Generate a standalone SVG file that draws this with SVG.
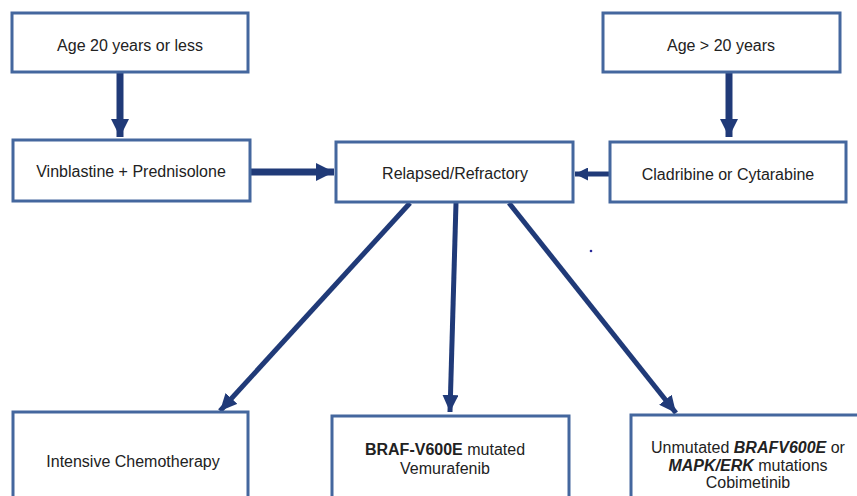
<svg xmlns="http://www.w3.org/2000/svg" width="857" height="496" viewBox="0 0 857 496">
<defs>
<style>
.box{fill:#ffffff;stroke:#44679e;stroke-width:3}
.t{font-family:"Liberation Sans",Arial,sans-serif;font-size:16px;fill:#222222;text-anchor:middle}
.b{font-weight:bold}
.bi{font-weight:bold;font-style:italic}
.c{stroke:#203a78;fill:none}
.w7{stroke-width:7}
.w5{stroke-width:5}
</style>
<marker id="hBig" markerUnits="userSpaceOnUse" markerWidth="18" markerHeight="18" refX="18" refY="9" orient="auto">
<path d="M0,0 L18,9 L0,18 z" fill="#203a78"/>
</marker>
<marker id="hMed" markerUnits="userSpaceOnUse" markerWidth="17" markerHeight="16" refX="17" refY="8" orient="auto">
<path d="M0,0 L17,8 L0,16 z" fill="#203a78"/>
</marker>
<marker id="hSm" markerUnits="userSpaceOnUse" markerWidth="13" markerHeight="13" refX="13" refY="6.5" orient="auto">
<path d="M0,0 L13,6.5 L0,13 z" fill="#203a78"/>
</marker>
</defs>
<rect width="857" height="496" fill="#ffffff"/>

<g id="connectors">
<line class="c w7" x1="120" y1="73" x2="120" y2="137" marker-end="url(#hBig)"/>
<line class="c w7" x1="729" y1="73" x2="729" y2="137" marker-end="url(#hBig)"/>
<line class="c w7" x1="251" y1="172" x2="334" y2="172" marker-end="url(#hBig)"/>
<line class="c w5" x1="609" y1="174" x2="575" y2="174" marker-end="url(#hSm)"/>
<line class="c w5" x1="410" y1="203" x2="220" y2="411" marker-end="url(#hMed)"/>
<line class="c w5" x1="456" y1="203" x2="450" y2="412" marker-end="url(#hMed)"/>
<line class="c w5" x1="509" y1="203" x2="676" y2="413" marker-end="url(#hMed)"/>
</g>

<g id="node-age-young">
<rect class="box" x="12" y="13" width="236" height="59"/>
<text class="t" x="130" y="51">Age 20 years or less</text>
</g>
<g id="node-age-old">
<rect class="box" x="603" y="13" width="237" height="59"/>
<text class="t" x="721" y="51">Age &gt; 20 years</text>
</g>
<g id="node-vinblastine">
<rect class="box" x="13" y="140" width="237" height="61"/>
<text class="t" x="131" y="177">Vinblastine + Prednisolone</text>
</g>
<g id="node-relapsed">
<rect class="box" x="336" y="142" width="237" height="60"/>
<text class="t" x="455" y="179">Relapsed/Refractory</text>
</g>
<g id="node-cladribine">
<rect class="box" x="610" y="142" width="236" height="60"/>
<text class="t" x="728" y="180">Cladribine or Cytarabine</text>
</g>
<g id="node-intensive">
<rect class="box" x="13" y="412" width="235" height="100"/>
<text class="t" x="133" y="467">Intensive Chemotherapy</text>
</g>
<g id="node-braf">
<rect class="box" x="332" y="416" width="237" height="100"/>
<text class="t" x="445" y="455"><tspan class="b">BRAF-V600E</tspan> mutated</text>
<text class="t" x="445" y="474">Vemurafenib</text>
</g>
<g id="node-unmutated">
<rect class="box" x="631" y="415" width="240" height="100"/>
<text class="t" x="748" y="453">Unmutated <tspan class="bi">BRAFV600E</tspan> or</text>
<text class="t" x="748" y="471"><tspan class="bi">MAPK/ERK</tspan> mutations</text>
<text class="t" x="748" y="488">Cobimetinib</text>
</g>
<circle cx="591" cy="251" r="1.3" fill="#2a2a9a"/>
</svg>
